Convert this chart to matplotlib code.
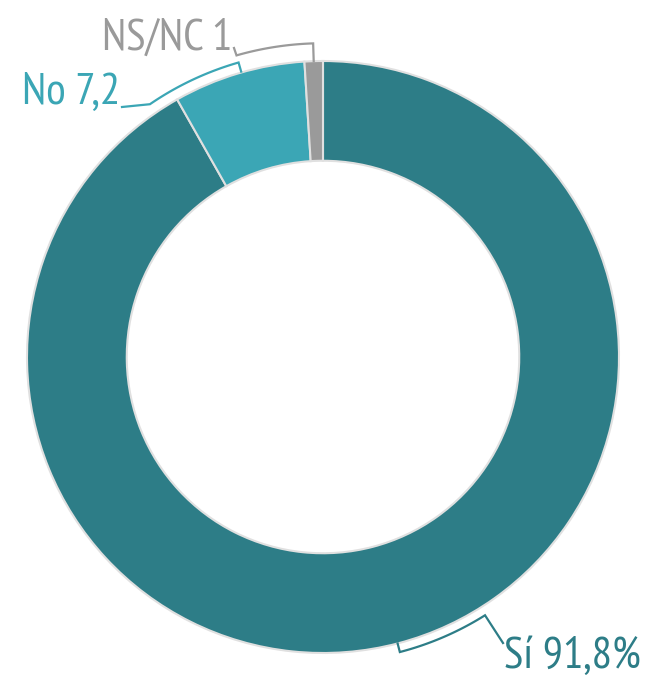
import numpy as np
import matplotlib
matplotlib.use("Agg")
import matplotlib.pyplot as plt

# ---- data ----
categories = ["Sí", "No", "NS/NC"]
values = [91.8, 7.2, 1.0]
labels = ["Sí 91,8%", "No 7,2", "NS/NC 1"]
colors = ["#2D7D87", "#3BA6B5", "#9A9A9A"]

plt.rcParams['font.family'] = ['PT Sans Narrow', 'Fira Sans Condensed',
                               'Roboto Condensed', 'DejaVu Sans']

W, H = 647, 675
cx, cy, R = 323, 357, 296  # pixel geometry of donut

fig = plt.figure(figsize=(W / 100, H / 100), dpi=100)
ax = fig.add_axes([0, 0, 1, 1])

wedges, _ = ax.pie(values, colors=colors, startangle=90, counterclock=False,
                   radius=1.0,
                   wedgeprops=dict(width=0.337, edgecolor='#e0e0e0', linewidth=1.5))
ax.set_xlim(-cx / R, (W - cx) / R)
ax.set_ylim(-(H - cy) / R, cy / R)
ax.set_aspect('equal')
ax.axis('off')


def pol(r, a):
    t = np.deg2rad(a)
    return r * np.cos(t), r * np.sin(t)


def arc(r, a0, a1, n=60):
    a = np.linspace(a0, a1, n)
    return list(r * np.cos(np.deg2rad(a))), list(r * np.sin(np.deg2rad(a)))


lw = 1.6
fs = 32.5
# Sí bracket
xs, ys = arc(1.03, -75.4, -57.9)
x0, y0 = pol(1.0, -75.4)
px = [x0] + xs + [(503 - cx) / R]
py = [y0] + ys + [(cy - 643) / R]
ax.plot(px, py, color=colors[0], lw=lw, solid_joinstyle='miter')
ax.text((504 - cx) / R, (cy - 668) / R, labels[0], color=colors[0], fontsize=fs,
        ha='left', va='baseline')

# No bracket
xs, ys = arc(1.035, 106, 124.4)
x0, y0 = pol(1.003, 106)
px = [x0] + xs + [(122 - cx) / R]
py = [y0] + ys + [(cy - 107) / R]
ax.plot(px, py, color=colors[1], lw=lw, solid_joinstyle='miter')
ax.text((120 - cx) / R, (cy - 104) / R, labels[1], color=colors[1], fontsize=fs,
        ha='right', va='baseline')

# NS/NC bracket
xs, ys = arc(1.06, 91.8, 106)
x0, y0 = pol(1.0, 91.8)
px = [x0] + xs + [(234 - cx) / R]
py = [y0] + ys + [(cy - 48) / R]
ax.plot(px, py, color=colors[2], lw=lw, solid_joinstyle='miter')
ax.text((232 - cx) / R, (cy - 50) / R, labels[2], color=colors[2], fontsize=fs,
        ha='right', va='baseline')

fig.savefig("out.png", dpi=100)
